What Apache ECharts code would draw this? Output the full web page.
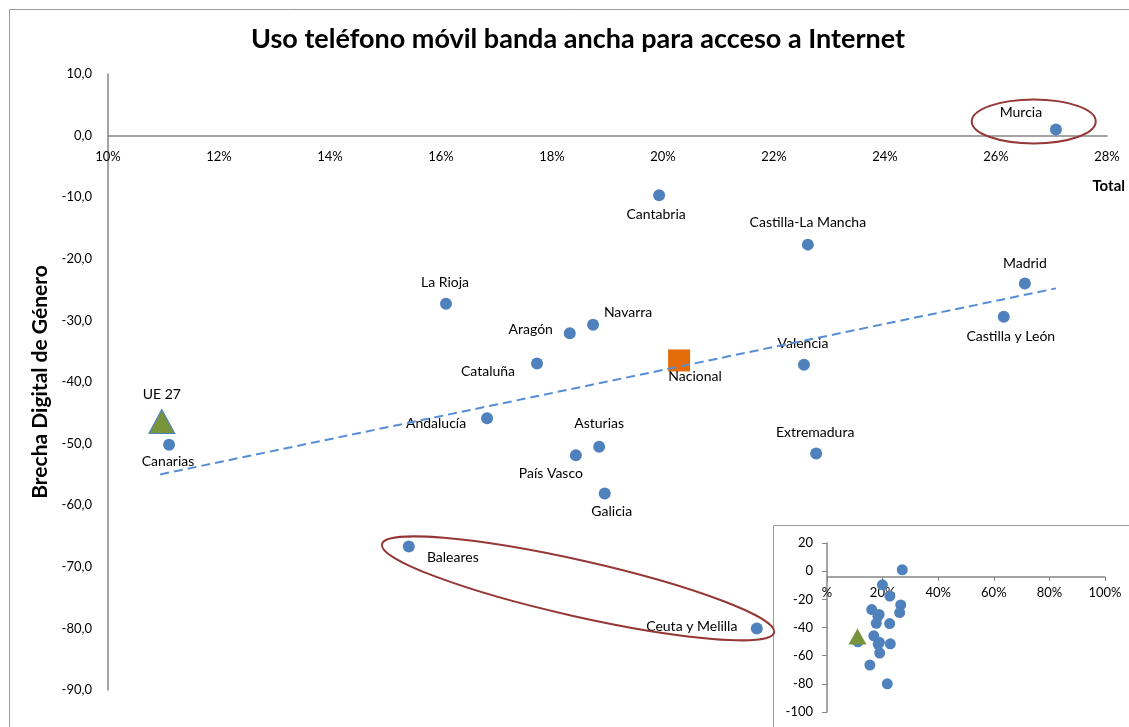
<!DOCTYPE html>
<html>
<head>
<meta charset="utf-8">
<script src="https://cdn.jsdelivr.net/npm/echarts@6/dist/echarts.min.js"></script>
<style>
  html, body { margin: 0; padding: 0; background: #fff; }
  #chart { width: 1129px; height: 727px; }
</style>
</head>
<body>
<div id="chart"></div>
<script>
// datos
const regiones = ['Murcia', 'Cantabria', 'Castilla-La Mancha', 'Madrid', 'Castilla y León', 'La Rioja',
  'Navarra', 'Aragón', 'Cataluña', 'Valencia', 'Andalucía', 'Canarias', 'Asturias', 'País Vasco',
  'Extremadura', 'Galicia', 'Baleares', 'Ceuta y Melilla'];
const total = [27.08, 19.93, 22.61, 26.52, 26.14, 16.09, 18.74, 18.32, 17.73, 22.54, 16.83, 11.10,
  18.85, 18.43, 22.76, 18.95, 15.42, 21.69];
const brecha = [1.0, -9.7, -17.7, -24.0, -29.4, -27.3, -30.7, -32.1, -37.0, -37.2, -45.9, -50.2,
  -50.5, -51.9, -51.6, -58.1, -66.7, -80.0];
const ue27 = [10.97, -46.4];
const nacional = [20.29, -36.5];
const tendencia = [[10.94, -55.0], [27.08, -24.8]];

// ejes
const xMain = { min: 10, max: 28, interval: 2 };
const yMain = { min: -90, max: 10, interval: 10 };
const xMini = { min: 0, max: 100, interval: 20 };
const yMini = { min: -100, max: 20, interval: 20 };

// desplazamiento de etiquetas (px)
const labelPos = {
  'Murcia': [-35, -17], 'Cantabria': [-3, 19], 'Castilla-La Mancha': [0, -22], 'Madrid': [0, -20],
  'Castilla y León': [7, 20], 'La Rioja': [-1, -21], 'Navarra': [35, -12], 'Aragón': [-39, -4],
  'Cataluña': [-49, 8], 'Valencia': [-1, -21], 'Andalucía': [-51, 5], 'Canarias': [-1, 17],
  'Asturias': [0, -23], 'País Vasco': [-25, 18], 'Extremadura': [-1, -21], 'Galicia': [7, 18],
  'Baleares': [44, 11], 'Ceuta y Melilla': [-65, -2], 'UE 27': [0, -27], 'Nacional': [16, 16]
};

const FONT = 'Lato';
const axisGrey = '#868686';
const blue = '#4F81BD';

const chart = echarts.init(document.getElementById('chart'));

function lbl(name) {
  return {
    show: true, formatter: name, position: 'inside', offset: labelPos[name],
    color: '#000', fontFamily: FONT, fontSize: 14
  };
}

const puntos = regiones.map((n, i) => ({ name: n, value: [total[i], brecha[i]], label: lbl(n) }));
const puntosMini = regiones.map((n, i) => [total[i], brecha[i]]);

const option = {
  animation: false,
  backgroundColor: '#fff',
  title: {
    text: 'Uso teléfono móvil banda ancha para acceso a Internet',
    left: 573, top: 21, textAlign: 'center',
    textStyle: { fontFamily: FONT, fontSize: 27, fontWeight: 'bold', color: '#000' }
  },
  grid: [
    { left: 108, right: 22, top: 74, bottom: 37 },
    { left: 827, right: 24, top: 543, bottom: 15 }
  ],
  xAxis: [
    {
      gridIndex: 0, type: 'value', min: xMain.min, max: xMain.max, interval: xMain.interval,
      axisLine: { onZero: false, lineStyle: { color: axisGrey, width: 1.5 } },
      axisTick: { show: false }, splitLine: { show: false },
      axisLabel: { formatter: '{value}%', margin: 15, color: '#000', fontFamily: FONT, fontSize: 13 }
    },
    {
      gridIndex: 1, type: 'value', min: xMini.min, max: xMini.max, interval: xMini.interval,
      axisLine: { onZero: false, lineStyle: { color: axisGrey, width: 1.5 } },
      axisTick: { show: true, length: 4, lineStyle: { color: axisGrey } }, splitLine: { show: false },
      axisLabel: {
        formatter: v => (v === 0 ? '%' : v + '%'), margin: 9, color: '#000', fontFamily: FONT, fontSize: 13
      }
    }
  ],
  yAxis: [
    {
      gridIndex: 0, type: 'value', min: yMain.min, max: yMain.max, interval: yMain.interval,
      axisLine: { show: true, onZero: false, lineStyle: { color: axisGrey, width: 1.5 } },
      axisTick: { show: false }, splitLine: { show: false },
      axisLabel: {
        formatter: v => v.toFixed(1).replace('.', ','), margin: 16,
        color: '#000', fontFamily: FONT, fontSize: 13
      },
      name: 'Brecha Digital de Género', nameLocation: 'middle', nameRotate: 90, nameGap: 54,
      nameTextStyle: { fontFamily: FONT, fontSize: 21, fontWeight: 'bold', color: '#000' }
    },
    {
      gridIndex: 1, type: 'value', min: yMini.min, max: yMini.max, interval: yMini.interval,
      axisLine: { show: true, onZero: false, lineStyle: { color: axisGrey, width: 1.5 } },
      axisTick: { show: true, length: 5, lineStyle: { color: axisGrey } }, splitLine: { show: false },
      axisLabel: { margin: 14, color: '#000', fontFamily: FONT, fontSize: 13 }
    }
  ],
  series: [
    {
      name: 'Comunidades', type: 'scatter', xAxisIndex: 0, yAxisIndex: 0,
      symbol: 'circle', symbolSize: 12, itemStyle: { color: blue, opacity: 1 }, data: puntos, z: 3
    },
    {
      name: 'UE 27', type: 'scatter', xAxisIndex: 0, yAxisIndex: 0,
      symbol: 'triangle', symbolSize: [26, 24],
      itemStyle: { color: '#77933C', borderColor: blue, borderWidth: 1, opacity: 1 },
      data: [{ name: 'UE 27', value: ue27, label: lbl('UE 27') }], z: 3
    },
    {
      name: 'Nacional', type: 'scatter', xAxisIndex: 0, yAxisIndex: 0,
      symbol: 'rect', symbolSize: 22, itemStyle: { color: '#E36C09', opacity: 1 },
      data: [{ name: 'Nacional', value: nacional, label: lbl('Nacional') }], z: 3
    },
    {
      name: 'Tendencia', type: 'line', xAxisIndex: 0, yAxisIndex: 0,
      symbol: 'none', data: tendencia, z: 4,
      lineStyle: { color: '#558ED5', width: 2, type: [9, 5] }
    },
    {
      name: 'Mini', type: 'scatter', xAxisIndex: 1, yAxisIndex: 1,
      symbol: 'circle', symbolSize: 11, itemStyle: { color: blue, opacity: 1 }, data: puntosMini, z: 5
    },
    {
      name: 'Mini UE', type: 'scatter', xAxisIndex: 1, yAxisIndex: 1,
      symbol: 'triangle', symbolSize: [18, 16], itemStyle: { color: '#77933C', opacity: 1 },
      data: [ue27], z: 6
    }
  ]
};

chart.setOption(option);

// ejes X cruzando en y = 0
const y0Main = chart.convertToPixel({ gridIndex: 0 }, [xMain.min, 0])[1];
const y0Mini = chart.convertToPixel({ gridIndex: 1 }, [xMini.min, 0])[1];
const yBotMain = chart.convertToPixel({ gridIndex: 0 }, [xMain.min, yMain.min])[1];
const yBotMini = chart.convertToPixel({ gridIndex: 1 }, [xMini.min, yMini.min])[1];

// elipses de resalte (centro en datos, radios en px)
const elipses = [
  { c: [26.68, 2.3], rx: 62, ry: 22, rot: 0 },
  { c: [18.47, -73.5], rx: 201, ry: 28, rot: -12.7 }
];

const graphics = [
  {
    type: 'rect', left: 7, top: 7, z: -10, silent: true,
    shape: { width: 1300, height: 900 },
    style: { fill: 'none', stroke: '#9a9a9a', lineWidth: 1 }
  },
  {
    type: 'rect', left: 773, top: 525, z: -5, silent: true,
    shape: { width: 500, height: 400 },
    style: { fill: '#fff', stroke: '#9a9a9a', lineWidth: 1 }
  },
  {
    type: 'text', right: 4, top: 179, z: 10,
    style: { text: 'Total', fill: '#000', font: 'bold 15px Lato' }
  }
];

elipses.forEach(e => {
  const p = chart.convertToPixel({ gridIndex: 0 }, e.c);
  graphics.push({
    type: 'ellipse', x: p[0], y: p[1], rotation: e.rot * Math.PI / 180, z: 8, silent: true,
    shape: { cx: 0, cy: 0, rx: e.rx, ry: e.ry },
    style: { fill: 'none', stroke: '#953735', lineWidth: 2 }
  });
});

chart.setOption({
  xAxis: [{ offset: y0Main - yBotMain }, { offset: y0Mini - yBotMini }],
  graphic: graphics
});

window.addEventListener('resize', function () {
  chart.resize();
});
</script>
</body>
</html>
